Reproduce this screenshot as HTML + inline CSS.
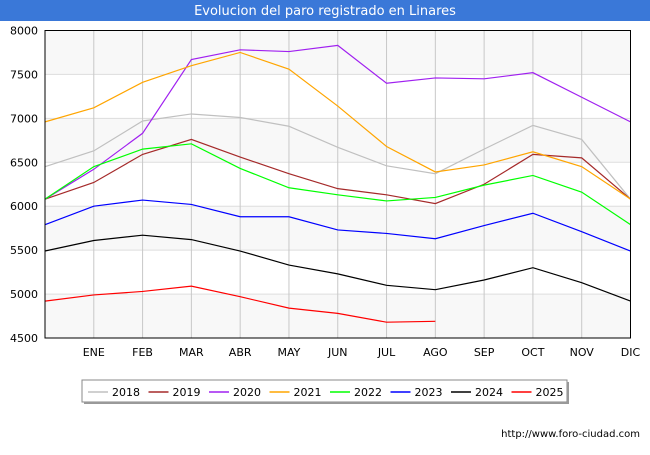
<!DOCTYPE html>
<html><head><meta charset="utf-8"><style>
body{margin:0;background:#fff;font-family:"Liberation Sans","DejaVu Sans",sans-serif;}
svg text{font-family:"DejaVu Sans","Liberation Sans",sans-serif;}
</style></head><body>
<svg id="chart" width="650" height="450" xmlns="http://www.w3.org/2000/svg">
<rect x="0" y="0" width="650" height="450" fill="#fff"/>
<rect x="0" y="0" width="650" height="21" fill="#3a78d8"/>
<text x="325" y="15" text-anchor="middle" font-size="13" fill="#fff">Evolucion del paro registrado en Linares</text>
<g id="bands"></g><g id="grid"></g><g id="axes"></g><g id="series"></g>
<rect x="45" y="30.5" width="585.5" height="307.5" fill="none" stroke="#000" stroke-width="1"/>
<g id="legend"></g>
<text x="640" y="437" text-anchor="end" font-size="10" fill="#000">http://www.foro-ciudad.com</text>
</svg>
<script>
const months = ["", "ENE","FEB","MAR","ABR","MAY","JUN","JUL","AGO","SEP","OCT","NOV","DIC"];
const yTicks = [4500,5000,5500,6000,6500,7000,7500,8000];
const years = ["2018","2019","2020","2021","2022","2023","2024","2025"];
const colors = ["#c0c0c0","#a52a2a","#a020f0","#ffa500","#00ff00","#0000ff","#000000","#ff0000"];
const s2018 = [6450,6630,6970,7050,7010,6910,6670,6460,6370,6650,6920,6760,6080];
const s2019 = [6080,6270,6590,6760,6560,6370,6200,6130,6030,6250,6590,6550,6080];
const s2020 = [6080,6420,6830,7670,7780,7760,7830,7400,7460,7450,7520,7240,6960];
const s2021 = [6960,7120,7410,7600,7750,7560,7140,6680,6390,6470,6620,6450,6080];
const s2022 = [6080,6450,6650,6710,6430,6210,6130,6060,6100,6240,6350,6160,5790];
const s2023 = [5790,6000,6070,6020,5880,5880,5730,5690,5630,5780,5920,5710,5490];
const s2024 = [5490,5610,5670,5620,5490,5330,5230,5100,5050,5160,5300,5130,4920];
const s2025 = [4920,4990,5030,5090,4970,4840,4780,4680,4690];
const allSeries = [s2018,s2019,s2020,s2021,s2022,s2023,s2024,s2025];

const NS="http://www.w3.org/2000/svg";
const X0=45, X1=630.5, Y0=338, Y1=30.5, VMIN=4500, VMAX=8000;
function xs(i){return X0+(X1-X0)*i/(months.length-1);}
function ys(v){return Y0-(v-VMIN)/(VMAX-VMIN)*(Y0-Y1);}
function mk(tag,parent,attrs){const e=document.createElementNS(NS,tag);for(const k in attrs)e.setAttribute(k,attrs[k]);document.getElementById(parent).appendChild(e);return e;}

for(let i=0;i<yTicks.length-1;i++){
  if((yTicks.length-2-i)%2===0){
    const r=mk("rect","bands",{x:X0,y:ys(yTicks[i+1]),width:X1-X0,height:ys(yTicks[i])-ys(yTicks[i+1]),fill:"#f8f8f8"});
    
    
  }
}
yTicks.forEach(v=>{
  const l=mk("line","grid",{x1:X0,x2:X1,y1:ys(v),y2:ys(v),stroke:"#dddddd","stroke-width":1});
  
  
  const t=mk("text","axes",{x:38,y:ys(v)+4,"text-anchor":"end","font-size":11,fill:"#000"});
  t.textContent=v;
  
  
});
months.forEach((m,i)=>{
  if(i===0)return;
  const l=mk("line","grid",{x1:xs(i),x2:xs(i),y1:Y1,y2:Y0,stroke:"#c8c8c8","stroke-width":1});
  
  
  const t=mk("text","axes",{x:xs(i),y:356,"text-anchor":"middle","font-size":11,fill:"#000"});
  t.textContent=m;
  
  
});
allSeries.forEach((s,k)=>{
  const p=mk("polyline","series",{points:s.map((v,i)=>xs(i)+","+ys(v)).join(" "),fill:"none",stroke:colors[k],"stroke-width":1.2});
  
  
});
const lb=mk("rect","legend",{x:82,y:380,width:485,height:22,fill:"#fff",stroke:"#888","stroke-width":1});


mk("rect","legend",{x:567,y:382,width:2,height:22,fill:"#999"});
mk("rect","legend",{x:84,y:402,width:485,height:2,fill:"#999"});
years.forEach((y,k)=>{
  const x=88+k*60.5;
  const l=mk("line","legend",{x1:x,x2:x+20,y1:392,y2:392,stroke:colors[k],"stroke-width":1.5});
  
  
  const t=mk("text","legend",{x:x+24,y:396,"font-size":11,fill:"#000"});
  t.textContent=y;
  
  
});
</script>
</body></html>
